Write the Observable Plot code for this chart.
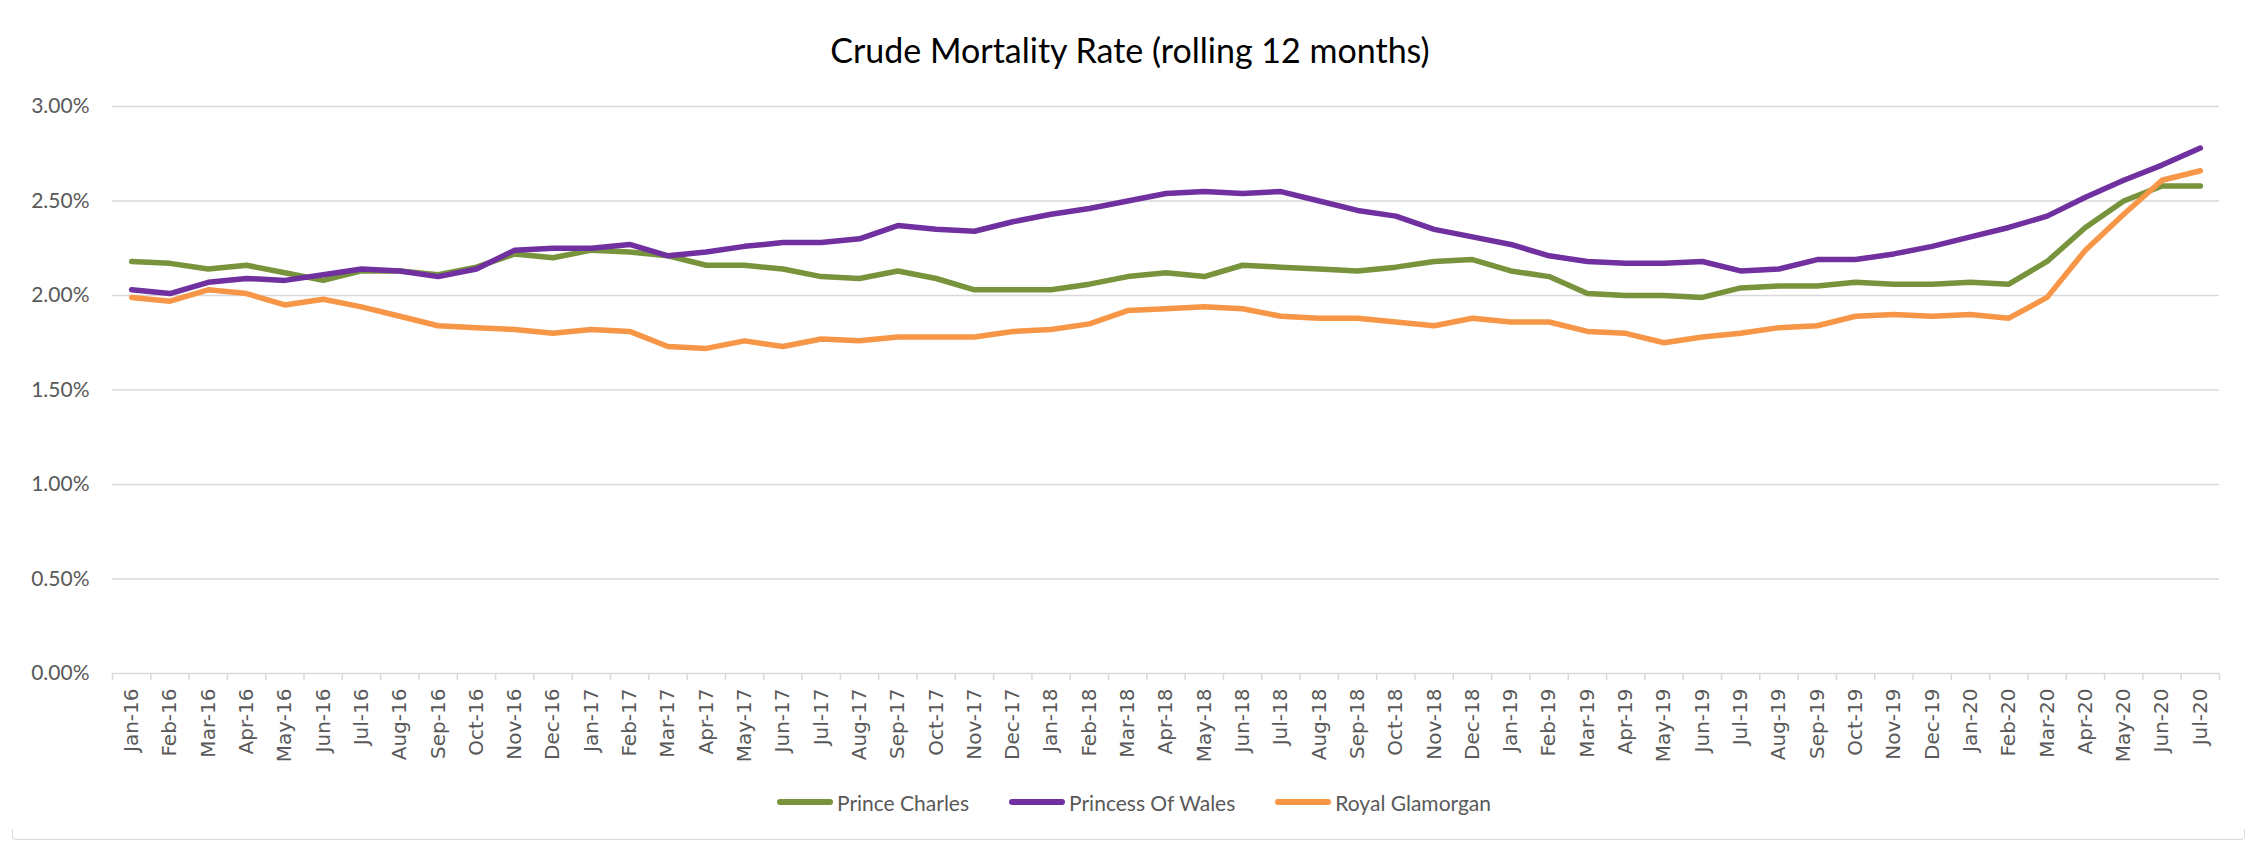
<!DOCTYPE html>
<html>
<head>
<meta charset="utf-8">
<script src="https://cdn.jsdelivr.net/npm/d3@7"></script>
<script src="https://cdn.jsdelivr.net/npm/@observablehq/plot@0.6"></script>
<style>
  html, body { margin: 0; padding: 0; background: #fff; }
  #frame { position: absolute; left: 12px; top: 7px; width: 2231px; height: 831px; border: 1.5px solid #d9d9d9; border-radius: 4px; z-index: -1; }
  #title { height: 80px; box-sizing: border-box; padding-top: 30px; padding-left: 9px; width: 2251px; text-align: center; font-family: Lato, sans-serif; font-size: 34px; line-height: 40px; color: #000; }
  #legend { width: 2251px; height: 54px; box-sizing: border-box; padding-left: 17px; display: flex; justify-content: center; align-items: center; gap: 40px; font-family: Lato, sans-serif; font-size: 21px; color: #595959; }
  .item { display: flex; align-items: center; }
  .sw { width: 56px; height: 6px; border-radius: 3px; margin-right: 4px; }
  svg { display: block; }
</style>
</head>
<body>
<div id="frame"></div>
<div id="title">Crude Mortality Rate (rolling 12 months)</div>
<div id="chart"></div>
<div id="legend"></div>
<script>
const months = ["Jan-16","Feb-16","Mar-16","Apr-16","May-16","Jun-16","Jul-16","Aug-16","Sep-16","Oct-16","Nov-16","Dec-16",
  "Jan-17","Feb-17","Mar-17","Apr-17","May-17","Jun-17","Jul-17","Aug-17","Sep-17","Oct-17","Nov-17","Dec-17",
  "Jan-18","Feb-18","Mar-18","Apr-18","May-18","Jun-18","Jul-18","Aug-18","Sep-18","Oct-18","Nov-18","Dec-18",
  "Jan-19","Feb-19","Mar-19","Apr-19","May-19","Jun-19","Jul-19","Aug-19","Sep-19","Oct-19","Nov-19","Dec-19",
  "Jan-20","Feb-20","Mar-20","Apr-20","May-20","Jun-20","Jul-20"];

const seriesNames = ["Prince Charles", "Princess Of Wales", "Royal Glamorgan"];
const seriesColors = ["#77933C", "#7030A0", "#F79646"];

// values in percent
const princeCharles = [2.18,2.17,2.14,2.16,2.12,2.08,2.13,2.13,2.11,2.15,2.22,2.20,
  2.24,2.23,2.21,2.16,2.16,2.14,2.10,2.09,2.13,2.09,2.03,2.03,
  2.03,2.06,2.10,2.12,2.10,2.16,2.15,2.14,2.13,2.15,2.18,2.19,
  2.13,2.10,2.01,2.00,2.00,1.99,2.04,2.05,2.05,2.07,2.06,2.06,
  2.07,2.06,2.18,2.36,2.50,2.58,2.58];
const princessOfWales = [2.03,2.01,2.07,2.09,2.08,2.11,2.14,2.13,2.10,2.14,2.24,2.25,
  2.25,2.27,2.21,2.23,2.26,2.28,2.28,2.30,2.37,2.35,2.34,2.39,
  2.43,2.46,2.50,2.54,2.55,2.54,2.55,2.50,2.45,2.42,2.35,2.31,
  2.27,2.21,2.18,2.17,2.17,2.18,2.13,2.14,2.19,2.19,2.22,2.26,
  2.31,2.36,2.42,2.52,2.61,2.69,2.78];
const royalGlamorgan = [1.99,1.97,2.03,2.01,1.95,1.98,1.94,1.89,1.84,1.83,1.82,1.80,
  1.82,1.81,1.73,1.72,1.76,1.73,1.77,1.76,1.78,1.78,1.78,1.81,
  1.82,1.85,1.92,1.93,1.94,1.93,1.89,1.88,1.88,1.86,1.84,1.88,
  1.86,1.86,1.81,1.80,1.75,1.78,1.80,1.83,1.84,1.89,1.90,1.89,
  1.90,1.88,1.99,2.24,2.43,2.61,2.66];

const yTicks = [0, 0.5, 1.0, 1.5, 2.0, 2.5, 3.0];

const allSeries = [princeCharles, princessOfWales, royalGlamorgan];
const data = [];
allSeries.forEach((vals, s) => vals.forEach((v, i) => data.push({series: seriesNames[s], i, v})));

const idx = months.map((m, i) => i);
const between = d3.range(months.length + 1).map(i => i - 0.5);

const chart = Plot.plot({
  width: 2251,
  height: 695,
  marginTop: 26,
  marginBottom: 102,
  marginLeft: 112,
  marginRight: 32,
  style: {background: "transparent", overflow: "visible"},
  x: {type: "linear", domain: [-0.5, months.length - 0.5]},
  y: {domain: [0, 3]},
  color: {domain: seriesNames, range: seriesColors},
  marks: [
    Plot.ruleY(yTicks, {stroke: "#d9d9d9", strokeWidth: 1.5}),
    Plot.axisY({ticks: yTicks, tickFormat: d => d.toFixed(2) + "%", tickSize: 0, tickPadding: 23,
      fontSize: 21, fontFamily: "Lato, sans-serif", fill: "#595959", label: null}),
    Plot.axisX({ticks: between, tickFormat: () => "", tickSize: 7, stroke: "#d9d9d9", strokeWidth: 1.5, strokeOpacity: 1, label: null}),
    Plot.axisX({ticks: idx, tickFormat: i => months[i], tickSize: 0, tickPadding: 15, tickRotate: -90,
      fontSize: 20, fontFamily: "DejaVu Sans, sans-serif", fill: "#595959", label: null}),
    Plot.line(data, {x: "i", y: "v", z: "series", stroke: "series", strokeWidth: 5.5,
      strokeLinejoin: "round", strokeLinecap: "round"})
  ]
});
document.getElementById("chart").appendChild(chart);

const legend = document.getElementById("legend");
seriesNames.forEach((n, k) => {
  const it = document.createElement("div");
  it.className = "item";
  const sw = document.createElement("div");
  sw.className = "sw";
  sw.style.background = seriesColors[k];
  const tx = document.createElement("span");
  tx.textContent = n;
  it.appendChild(sw); it.appendChild(tx);
  legend.appendChild(it);
});
</script>
</body>
</html>
